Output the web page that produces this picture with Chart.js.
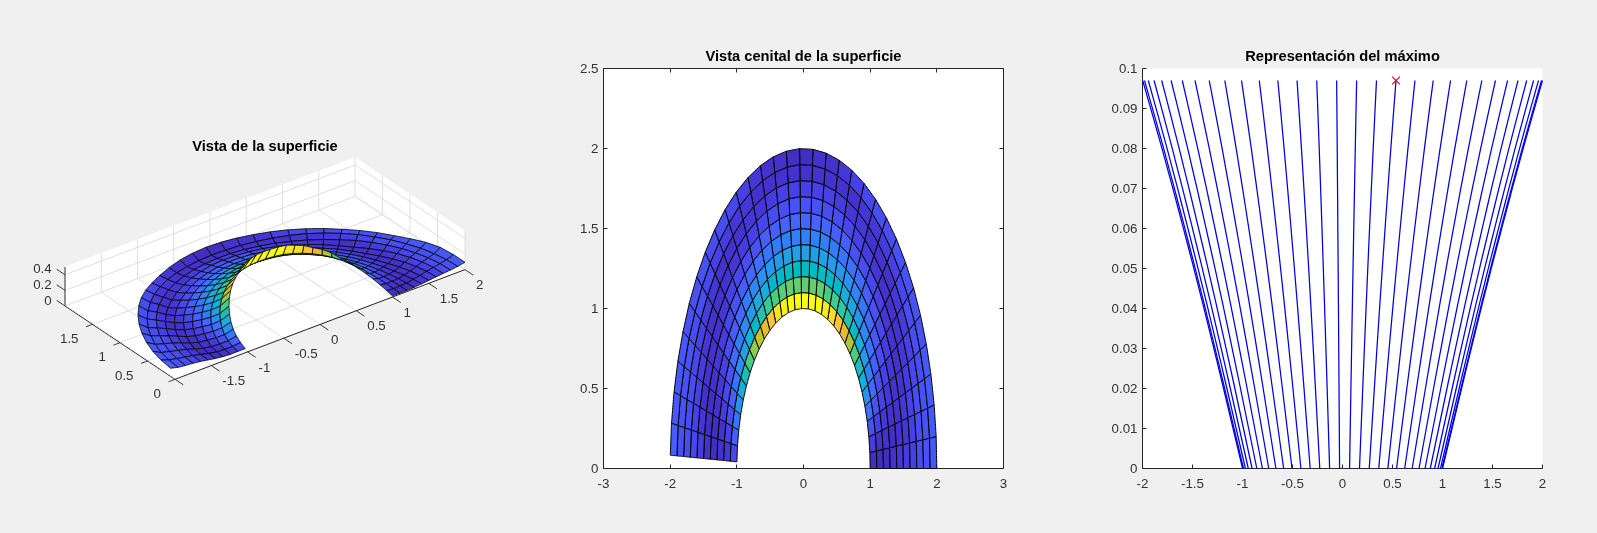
<!DOCTYPE html>
<html><head><meta charset="utf-8">
<style>
html,body{margin:0;padding:0;background:#f0f0f0;width:1597px;height:533px;overflow:hidden}
canvas{position:absolute;display:block}
</style>
<script src="https://cdn.jsdelivr.net/npm/chart.js@4/dist/chart.umd.js"></script>
</head><body>
<canvas id="c3d" width="530" height="283" style="left:0;top:137px"></canvas>
<canvas id="cTop" width="480" height="452" style="left:560px;top:47px"></canvas>
<canvas id="cMax" width="480" height="452" style="left:1100px;top:47px"></canvas>
<script>
// ---- data ----
const radii = [1,1.1,1.2,1.3,1.4,1.5,1.6,1.7,1.8,1.9,2];
const angles = [0,.1,.2,.3,.4,.5,.6,.7,.8,.9,1,1.1,1.2,1.3,1.4,1.5,1.6,1.7,1.8,1.9,2,2.1,2.2,2.3,2.4,2.5,2.6,2.7,2.8,2.9,3,3.1];
// surface level (0..1 of the colour range) per ring, one value per angle
const levelR10 = [.03,.08,.15,.23,.32,.41,.50,.60,.72,.80,.85,.92,.96,1,1,1,1,1,.97,.93,.86,.80,.75,.68,.60,.50,.41,.32,.24,.17,.11,.05];
const levelR11 = [.03,.05,.09,.14,.20,.27,.34,.41,.47,.52,.56,.59,.61,.63,.63,.63,.63,.63,.62,.60,.57,.53,.48,.43,.37,.30,.24,.18,.13,.09,.06,.04];
const levelR12 = [.03,.04,.06,.09,.13,.18,.24,.29,.34,.38,.41,.44,.46,.47,.47,.47,.47,.47,.46,.44,.42,.39,.35,.30,.25,.20,.15,.11,.08,.05,.04,.03];
const levelR13 = [.04,.03,.04,.06,.09,.12,.16,.20,.24,.28,.31,.33,.35,.36,.36,.36,.36,.36,.35,.33,.31,.28,.25,.21,.17,.13,.10,.07,.05,.03,.03,.04];
const levelR14 = [.06,.05,.04,.04,.06,.08,.11,.14,.17,.20,.22,.24,.26,.27,.27,.27,.27,.27,.26,.24,.22,.20,.17,.14,.11,.08,.06,.04,.03,.03,.05,.06];
const levelR15 = [.08,.07,.06,.05,.04,.05,.07,.09,.11,.13,.15,.17,.18,.19,.19,.19,.19,.19,.18,.17,.15,.13,.11,.09,.07,.05,.04,.04,.05,.06,.08,.09];
const levelR16 = [.10,.10,.09,.08,.06,.05,.04,.05,.07,.08,.10,.11,.12,.13,.14,.14,.14,.13,.12,.11,.10,.08,.07,.05,.04,.05,.06,.08,.09,.10,.11,.12];
const levelR17 = [.12,.12,.12,.11,.10,.08,.06,.04,.04,.05,.06,.07,.08,.09,.09,.09,.09,.09,.08,.07,.06,.05,.04,.04,.06,.08,.10,.11,.12,.12,.13,.14];
const levelR18 = [.14,.14,.14,.13,.13,.12,.11,.10,.08,.07,.06,.05,.05,.04,.04,.04,.04,.04,.05,.05,.06,.07,.08,.10,.11,.12,.13,.14,.14,.14,.15,.15];
const levelR19 = [.16,.16,.16,.16,.15,.15,.14,.14,.13,.12,.11,.09,.07,.05,.04,.03,.03,.04,.05,.07,.09,.11,.12,.13,.14,.15,.15,.16,.16,.16,.17,.17];
const levelR20 = [.20,.22,.24,.22,.18,.15,.14,.13,.12,.12,.12,.12,.12,.12,.13,.14,.15,.15,.15,.14,.14,.16,.20,.24,.26,.26,.26,.26,.25,.24,.23,.22];
const surfaceLevels = [levelR10,levelR11,levelR12,levelR13,levelR14,levelR15,levelR16,levelR17,levelR18,levelR19,levelR20];
const zAtFullLevel = 0.47;

// third panel: height reached along each ray, per ring, and the marked maximum
const rayHeights = [0,.0105,.021,.0313,.0414,.0512,.0608,.0702,.0794,.0883,.097];
const maxX = [0.535];
const maxY = [0.097];

const titles = ['Vista de la superficie','Vista cenital de la superficie','Representación del máximo'];
const topXTicks = [-3,-2,-1,0,1,2,3];
const topYTicks = [0,.5,1,1.5,2,2.5];
const maxXTicks = [-2,-1.5,-1,-.5,0,.5,1,1.5,2];
const maxYTicks = [0,.01,.02,.03,.04,.05,.06,.07,.08,.09,.1];
const maxYLabels = ['0','0.01','0.02','0.03','0.04','0.05','0.06','0.07','0.08','0.09','0.1'];
const x3dTicks = [-1.5,-1,-.5,0,.5,1,1.5,2];
const y3dTicks = [0,.5,1,1.5];
const z3dTicks = [0,.2,.4];
const x3dLimits = [-2,2];
const y3dLimits = [0,2];
const z3dLimits = [0,.5];

// parula colour map
const parula = [[.2422,.1504,.6603],[.2504,.165,.7076],[.2578,.1818,.7511],[.2647,.1978,.7952],[.2706,.2147,.8364],[.2751,.2342,.871],[.2783,.2559,.8991],[.2803,.2782,.9221],[.2813,.3006,.9414],[.281,.3228,.9579],[.2795,.3447,.9717],[.276,.3667,.9829],[.2699,.3892,.9906],[.2602,.4123,.9952],[.244,.4358,.9988],[.2206,.4603,.9973],[.1963,.4847,.9892],[.1834,.5074,.9798],[.1786,.5289,.9682],[.1764,.5499,.952],[.1687,.5703,.9359],[.154,.5902,.9218],[.146,.6091,.9079],[.138,.6276,.8973],[.1248,.6459,.8883],[.1113,.6635,.8763],[.0952,.6798,.8598],[.0689,.6948,.8394],[.0297,.7082,.8163],[.0036,.7203,.7917],[.0067,.7312,.766],[.0433,.7411,.7394],[.0964,.75,.712],[.1408,.7584,.6842],[.1717,.767,.6554],[.1938,.7758,.6251],[.2161,.7843,.5923],[.247,.7918,.5567],[.2906,.7973,.5188],[.3406,.8008,.4789],[.3909,.8029,.4354],[.4456,.8024,.3909],[.5044,.7993,.348],[.5616,.7942,.3045],[.6174,.7876,.2612],[.672,.7793,.2227],[.7242,.7698,.191],[.7738,.7598,.1646],[.8203,.7498,.1535],[.8634,.7406,.1596],[.9035,.733,.1774],[.9393,.7288,.21],[.9728,.7298,.2394],[.9956,.7434,.2371],[.997,.7659,.2199],[.9952,.7893,.2028],[.9892,.8136,.1885],[.9786,.8386,.1766],[.9676,.8639,.1643],[.961,.889,.1537],[.9597,.9135,.1423],[.9628,.9373,.1265],[.9691,.9606,.1064],[.9769,.9839,.0805]];
function levelColor(c){
  const e = parula[Math.round(Math.min(1,Math.max(0,c))*(parula.length-1))];
  return `rgb(${Math.round(e[0]*255)},${Math.round(e[1]*255)},${Math.round(e[2]*255)})`;
}

const AXIS = '#262626', LABEL = '#333333', GRID = '#dedede', FONT = '"Liberation Sans", Arial, sans-serif';
const TICK_FONT = `13.33px ${FONT}`;
const titleOpts = (text,bottom)=>({display:true,text,color:'#000',fullSize:false,
  font:{family:FONT,size:14.67,weight:'bold',lineHeight:'17.5px'},padding:{top:1,bottom}});

// a tiny tension keeps Chart.js off its integer-snapping fast line path
function pathSet(points,opts){
  return Object.assign({data:points,showLine:true,pointRadius:0,tension:0.0001,borderWidth:1,
    borderColor:'#000',fill:false,clip:false},opts||{});
}
// ---- surface cells in data space ----
function cells(){
  const out=[];
  for(let i=0;i<radii.length-1;i++) for(let j=0;j<angles.length-1;j++){
    const v=[[i,j],[i+1,j],[i+1,j+1],[i,j+1],[i,j]].map(([a,b])=>({
      x:radii[a]*Math.cos(angles[b]), y:radii[a]*Math.sin(angles[b]), z:surfaceLevels[a][b]*zAtFullLevel}));
    out.push({v,color:levelColor(surfaceLevels[i][j])});
  }
  return out;
}

// ---- view of the 3-D box ----
const view = {ox:175,oy:379.33,xx:72.5,xy:-27.43,yx:-55,yy:-36.67,zy:-78};
function project(x,y,z){
  const dx=x-x3dLimits[0];
  return {x:view.ox+view.xx*dx+view.yx*y, y:view.oy+view.xy*dx+view.yy*y+view.zy*z};
}
function farness(x,y,z){ return (27.43*x+36.67*y)/.57 - 78*z*.7; }

const [x0,x1]=x3dLimits,[y0,y1]=y3dLimits,[z0,z1]=z3dLimits;
const sets3d=[];
const add3d=(pts,o)=>sets3d.push(pathSet(pts.map(p=>project(...p)),o));
const whiteFace={fill:'shape',backgroundColor:'#fff',borderColor:'#fff',borderWidth:0};
add3d([[x0,y1,z0],[x1,y1,z0],[x1,y1,z1],[x0,y1,z1],[x0,y1,z0]],whiteFace);
add3d([[x1,y0,z0],[x1,y1,z0],[x1,y1,z1],[x1,y0,z1],[x1,y0,z0]],whiteFace);
add3d([[x0,y0,z0],[x1,y0,z0],[x1,y1,z0],[x0,y1,z0],[x0,y0,z0]],whiteFace);
const grid={borderColor:GRID};
x3dTicks.forEach(t=>{add3d([[t,y0,z0],[t,y1,z0],[t,y1,z1]],grid);});
y3dTicks.forEach(t=>{add3d([[x0,t,z0],[x1,t,z0],[x1,t,z1]],grid);});
z3dTicks.forEach(t=>{add3d([[x0,y1,t],[x1,y1,t],[x1,y0,t]],grid);});
const ax={borderColor:AXIS};
add3d([[x0,y0,z0],[x1,y0,z0]],ax);
add3d([[x0,y0,z0],[x0,y1,z0]],ax);
add3d([[x0,y1,z0],[x0,y1,z1]],ax);
[x0,...x3dTicks].forEach(t=>add3d([[t,y0,z0],[t,y0-.15,z0]],ax));
y3dTicks.forEach(t=>add3d([[x0,t,z0],[x0-.09,t,z0]],ax));
z3dTicks.forEach(t=>add3d([[x0,y1,t],[x0,y1+.15,t]],ax));
const sorted=cells().map(c=>{
  const n=c.v.slice(0,4);
  const m=n.reduce((a,p)=>[a[0]+p.x/4,a[1]+p.y/4,a[2]+p.z/4],[0,0,0]);
  return {c,d:farness(...m)};
}).sort((a,b)=>b.d-a.d);
sorted.forEach(({c})=>{
  sets3d.push(pathSet(c.v.map(p=>project(p.x,p.y,p.z)),{fill:'shape',backgroundColor:c.color,borderColor:'#000',borderWidth:.8}));
});

const labels3d={id:'labels3d',afterDraw(chart){
  const {ctx,scales:{x,y}}=chart;
  const at=p=>[x.getPixelForValue(p.x),y.getPixelForValue(p.y)];
  ctx.save();ctx.font=TICK_FONT;ctx.fillStyle=LABEL;ctx.textBaseline='middle';
  ctx.textAlign='left';
  x3dTicks.forEach(t=>{const [a,b]=at(project(t,y0,z0));ctx.fillText(String(t),a+11,b+16);});
  ctx.textAlign='right';
  y3dTicks.forEach(t=>{const [a,b]=at(project(x0,t,z0));ctx.fillText(String(t),a-14,b+15);});
  z3dTicks.forEach(t=>{const [a,b]=at(project(x0,y1,t));ctx.fillText(String(t),a-13.3,b-5);});
  ctx.restore();
}};

new Chart(document.getElementById('c3d'),{type:'scatter',
  data:{datasets:sets3d.slice().reverse()},
  plugins:[labels3d],
  options:{responsive:false,animation:false,events:[],devicePixelRatio:1,layout:{padding:0},
    plugins:{legend:{display:false},tooltip:{enabled:false},title:titleOpts(titles[0],0)},
    scales:{x:{type:'linear',display:false,min:0,max:530},y:{type:'linear',display:false,min:155.5,max:420,reverse:true}}}
});

// ---- 2-D panels: white plot box, inward ticks ----
function axesPlugin(boxed){return {id:'axesBox',beforeDatasetsDraw(chart){
  const {ctx,chartArea:a,scales:{x,y}}=chart;
  ctx.save();
  ctx.fillStyle='#fff';ctx.fillRect(a.left,a.top,a.right-a.left,a.bottom-a.top);
  ctx.strokeStyle=AXIS;ctx.lineWidth=1;ctx.beginPath();
  ctx.moveTo(a.left,a.top);ctx.lineTo(a.left,a.bottom);ctx.lineTo(a.right,a.bottom);
  if(boxed){ctx.lineTo(a.right,a.top);ctx.lineTo(a.left,a.top);}
  x.ticks.forEach(t=>{const p=Math.round(x.getPixelForValue(t.value)-.5)+.5;
    ctx.moveTo(p,a.bottom);ctx.lineTo(p,a.bottom-4);
    if(boxed){ctx.moveTo(p,a.top);ctx.lineTo(p,a.top+4);}});
  y.ticks.forEach(t=>{const p=Math.round(y.getPixelForValue(t.value)-.5)+.5;
    ctx.moveTo(a.left,p);ctx.lineTo(a.left+4,p);
    if(boxed){ctx.moveTo(a.right,p);ctx.lineTo(a.right-4,p);}});
  ctx.stroke();ctx.restore();
}};}
function linearAxis(min,max,ticks,size,vertical,labels){
  const tickFont={family:FONT,size:13.33};
  return {type:'linear',min,max,grid:{display:false,drawTicks:false},border:{display:false},
    ticks:{color:LABEL,font:tickFont,padding:vertical?5:8,labelOffset:vertical?1:0,autoSkip:false,maxRotation:0,
      callback:(v,i)=>labels?labels[i]:String(v)},
    afterBuildTicks:s=>{s.ticks=ticks.map(value=>({value}));},
    afterFit:s=>{if(vertical)s.width=size;else s.height=size;}};
}
const topSets=cells().reverse().map(c=>pathSet(c.v.map(p=>({x:p.x,y:p.y})),
  {fill:'shape',backgroundColor:c.color,borderColor:'#000'}));
new Chart(document.getElementById('cTop'),{type:'scatter',data:{datasets:topSets},plugins:[axesPlugin(true)],
  options:{responsive:false,animation:false,events:[],devicePixelRatio:1,layout:{padding:{right:36.5}},
    plugins:{legend:{display:false},tooltip:{enabled:false},title:titleOpts(titles[1],3)},
    scales:{x:linearAxis(-3,3,topXTicks,30.5,false),y:linearAxis(0,2.5,topYTicks,43.5,true)}}
});

const maxSets=[pathSet([{x:maxX[0],y:maxY[0]}],{showLine:false,pointStyle:'crossRot',pointRadius:5.5,pointBorderWidth:1.2,pointBorderColor:'#e0002a',pointBackgroundColor:'#e0002a'})];
angles.forEach(t=>maxSets.push(pathSet(radii.map((r,i)=>({x:r*Math.cos(t),y:rayHeights[i]})),{borderColor:'#0000e0',borderWidth:1.25})));
new Chart(document.getElementById('cMax'),{type:'scatter',data:{datasets:maxSets},plugins:[axesPlugin(false)],
  options:{responsive:false,animation:false,events:[],devicePixelRatio:1,layout:{padding:{right:37.5}},
    plugins:{legend:{display:false},tooltip:{enabled:false},title:titleOpts(titles[2],3)},
    scales:{x:linearAxis(-2,2,maxXTicks,30.5,false),y:linearAxis(0,.1,maxYTicks,42.5,true,maxYLabels)}}
});
</script>
</body></html>
